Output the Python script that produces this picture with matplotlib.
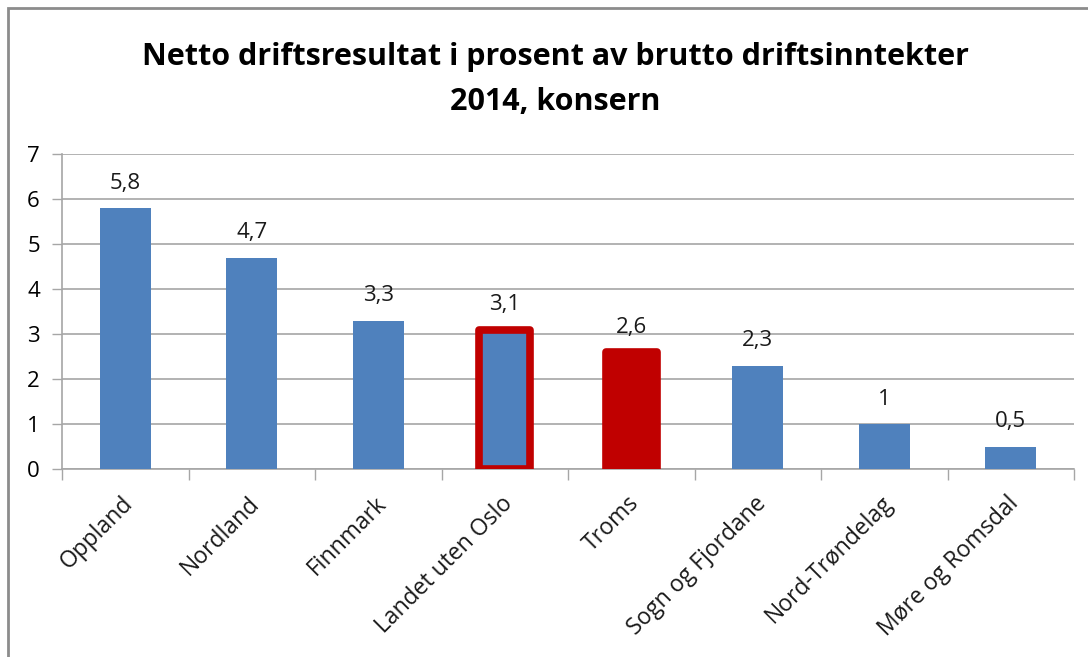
import matplotlib
matplotlib.use("Agg")
import matplotlib.pyplot as plt
from matplotlib.patches import Rectangle

categories = ["Oppland", "Nordland", "Finnmark", "Landet uten Oslo", "Troms",
              "Sogn og Fjordane", "Nord-Trøndelag", "Møre og Romsdal"]
values = [5.8, 4.7, 3.3, 3.1, 2.6, 2.3, 1.0, 0.5]
value_labels = ["5,8", "4,7", "3,3", "3,1", "2,6", "2,3", "1", "0,5"]
yticks = [0, 1, 2, 3, 4, 5, 6, 7]

blue = "#4F81BD"
red = "#C00000"
face_colors = [blue, blue, blue, blue, red, blue, blue, blue]
edge_colors = [None, None, None, red, red, None, None, None]

plt.rcParams['font.family'] = ['Open Sans', 'DejaVu Sans']

fig = plt.figure(figsize=(10.88, 6.57), dpi=100)
W, H = 1088, 657

# outer chart frame
fig.patches.append(Rectangle((8 / W, -0.1), 1.2, (H - 8) / H + 0.1,
                             transform=fig.transFigure, fill=False,
                             edgecolor="#8c8c8c", linewidth=2.0))

ax = fig.add_axes([62 / W, 1 - 469 / H, (1074 - 62) / W, (469 - 154) / H])

for i, (v, fc, ec) in enumerate(zip(values, face_colors, edge_colors)):
    if ec is None:
        ax.bar(i, v, width=0.4, color=fc, zorder=3)
    else:
        ax.bar(i, v, width=0.4, color=fc, edgecolor=ec, linewidth=5.5,
               zorder=3, joinstyle="round")
    ax.text(i, v + 0.55, value_labels[i], ha="center", va="center",
            fontsize=16, color="#1a1a1a")

ax.set_xlim(-0.5, len(categories) - 0.5)
ax.set_ylim(0, 7)
ax.set_yticks(yticks)
ax.set_yticklabels([str(t) for t in yticks], fontsize=16)
ax.yaxis.grid(True, color="#a6a6a6", linewidth=1.2, zorder=0)
ax.set_axisbelow(True)

ax.set_xticks([i + 0.5 for i in range(-1, len(categories))], minor=False)
ax.set_xticklabels([])
ax.tick_params(axis="x", length=8, color="#a6a6a6", width=1)
ax.tick_params(axis="y", length=7, color="#a6a6a6", width=1, pad=9)

for i, c in enumerate(categories):
    ax.text(i - 0.03, -0.5, c, rotation=45, ha="right", va="top",
            rotation_mode="anchor", fontsize=16.5, color="#1a1a1a")

for s in ["top", "right"]:
    ax.spines[s].set_visible(False)
ax.spines["left"].set_color("#a6a6a6")
ax.spines["bottom"].set_color("#a6a6a6")
ax.spines["left"].set_linewidth(1.2)
ax.spines["bottom"].set_linewidth(1.2)

fig.text(555 / W, 1 - 57 / H, "Netto driftsresultat i prosent av brutto driftsinntekter",
         ha="center", va="center", fontsize=22, fontweight="bold")
fig.text(555 / W, 1 - 102 / H, "2014, konsern",
         ha="center", va="center", fontsize=22, fontweight="bold")

fig.savefig("out.png", dpi=100)
